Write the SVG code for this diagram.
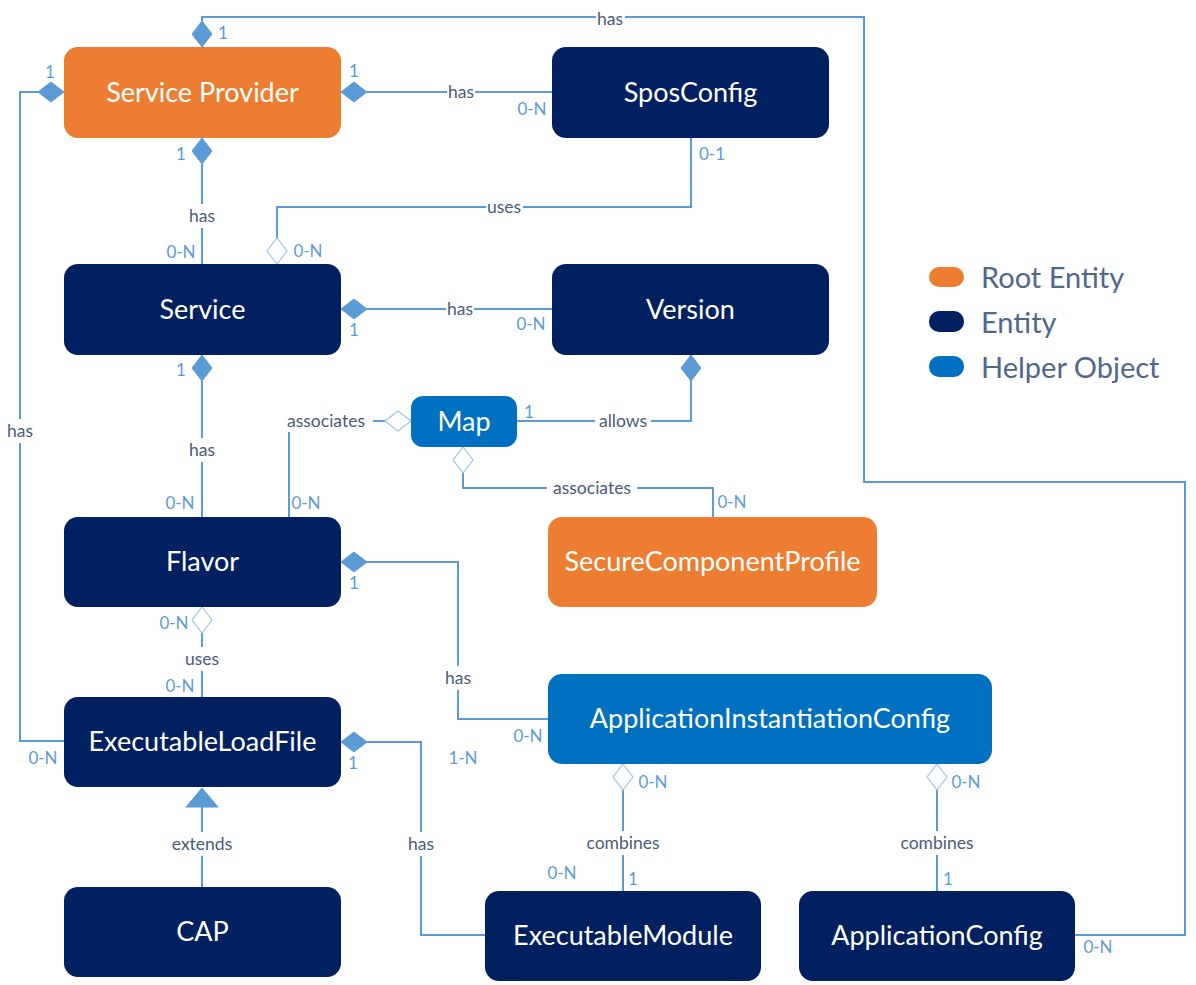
<svg xmlns="http://www.w3.org/2000/svg" width="1196" height="985" viewBox="0 0 1196 985">
<style>
.node-root{fill:#ED7D31}
.node-ent{fill:#002060}
.node-help{fill:#0070C0}
.nt{font-family:Lato,"Liberation Sans",sans-serif;font-size:27px;fill:#FFFFFF;text-anchor:middle}
.ln{fill:none;stroke:#5B9BD5;stroke-width:2}
.fd{fill:#5B9BD5;stroke:#5B9BD5;stroke-width:1}
.hd{fill:#FFFFFF;stroke:#9DC3E6;stroke-width:1.2}
.bg{fill:#FFFFFF}
.lb{font-family:Lato,"Liberation Sans",sans-serif;font-size:17.5px;fill:#4A5C7A;text-anchor:middle}
.m{font-family:Lato,"Liberation Sans",sans-serif;font-size:17px;fill:#5B9BD5;text-anchor:middle}
.lg{font-family:Lato,"Liberation Sans",sans-serif;font-size:29px;fill:#50688A}
</style>
<rect x="0" y="0" width="1196" height="985" fill="#FFFFFF"/>

<g id="connectors">
  <path class="ln" d="M202,21 V17 H864 V482 H1185 V935 H1075"/>
  <path class="ln" d="M367,92 H552"/>
  <path class="ln" d="M202,164 V264"/>
  <path class="ln" d="M38,92 H20 V741 H64"/>
  <path class="ln" d="M691,138 V207 H277 V238"/>
  <path class="ln" d="M367,309 H552"/>
  <path class="ln" d="M202,381 V517"/>
  <path class="ln" d="M289,517 V421 H385"/>
  <path class="ln" d="M517,421 H691 V381"/>
  <path class="ln" d="M463,473 V488 H713 V517"/>
  <path class="ln" d="M367,562 H458 V719 H548"/>
  <path class="ln" d="M202,633 V697"/>
  <path class="ln" d="M367,742 H421 V935 H485"/>
  <path class="ln" d="M623,790 V891"/>
  <path class="ln" d="M937,790 V891"/>
  <path class="ln" d="M202,887 V807"/>

  <polygon class="fd" points="202,47 212,34 202,21 192,34"/>
  <polygon class="fd" points="64,92 51,82 38,92 51,102"/>
  <polygon class="fd" points="341,92 354,82 367,92 354,102"/>
  <polygon class="fd" points="202,138 212,151 202,164 192,151"/>
  <polygon class="fd" points="341,309 354,299 367,309 354,319"/>
  <polygon class="fd" points="202,355 212,368 202,381 192,368"/>
  <polygon class="fd" points="691,355 701,368 691,381 681,368"/>
  <polygon class="fd" points="341,562 354,552 367,562 354,572"/>
  <polygon class="fd" points="341,742 354,732 367,742 354,752"/>
  <polygon class="hd" points="277,264 287,251 277,238 267,251"/>
  <polygon class="hd" points="411,421 398,411 385,421 398,431"/>
  <polygon class="hd" points="463,447 473,460 463,473 453,460"/>
  <polygon class="hd" points="202,607 212,620 202,633 192,620"/>
  <polygon class="hd" points="623,764 633,777 623,790 613,777"/>
  <polygon class="hd" points="937,764 947,777 937,790 927,777"/>
  <polygon class="fd" points="202,788 218,807 186,807"/>

  <rect class="bg" x="596" y="9" width="29" height="20"/>
  <rect class="bg" x="447" y="82" width="28" height="20"/>
  <rect class="bg" x="188" y="204" width="28" height="24"/>
  <rect class="bg" x="486" y="197" width="37" height="20"/>
  <rect class="bg" x="446" y="299" width="28" height="20"/>
  <rect class="bg" x="188" y="438" width="28" height="24"/>
  <rect class="bg" x="6" y="419" width="28" height="24"/>
  <rect class="bg" x="280" y="409" width="93" height="23"/>
  <rect class="bg" x="595" y="411" width="56" height="20"/>
  <rect class="bg" x="547" y="478" width="90" height="20"/>
  <rect class="bg" x="444" y="666" width="28" height="24"/>
  <rect class="bg" x="184" y="647" width="36" height="24"/>
  <rect class="bg" x="166" y="832" width="72" height="24"/>
  <rect class="bg" x="407" y="832" width="28" height="24"/>
  <rect class="bg" x="589" y="831" width="68" height="24"/>
  <rect class="bg" x="903" y="831" width="68" height="24"/>

  <text class="lb" x="610" y="25">has</text>
  <text class="lb" x="461" y="98">has</text>
  <text class="lb" x="202" y="222">has</text>
  <text class="lb" x="504" y="213">uses</text>
  <text class="lb" x="460" y="315">has</text>
  <text class="lb" x="202" y="456">has</text>
  <text class="lb" x="20" y="437">has</text>
  <text class="lb" x="326" y="427">associates</text>
  <text class="lb" x="623" y="427">allows</text>
  <text class="lb" x="592" y="494">associates</text>
  <text class="lb" x="458" y="684">has</text>
  <text class="lb" x="202" y="665">uses</text>
  <text class="lb" x="202" y="850">extends</text>
  <text class="lb" x="421" y="850">has</text>
  <text class="lb" x="623" y="849">combines</text>
  <text class="lb" x="937" y="849">combines</text>

  <text class="m" x="223" y="39">1</text>
  <text class="m" x="50" y="78">1</text>
  <text class="m" x="354" y="77">1</text>
  <text class="m" x="532" y="115">0-N</text>
  <text class="m" x="181" y="160">1</text>
  <text class="m" x="181" y="258">0-N</text>
  <text class="m" x="308" y="257">0-N</text>
  <text class="m" x="712" y="160">0-1</text>
  <text class="m" x="354" y="336">1</text>
  <text class="m" x="531" y="330">0-N</text>
  <text class="m" x="181" y="376">1</text>
  <text class="m" x="180" y="509">0-N</text>
  <text class="m" x="306" y="509">0-N</text>
  <text class="m" x="529" y="418">1</text>
  <text class="m" x="732" y="508">0-N</text>
  <text class="m" x="354" y="589">1</text>
  <text class="m" x="174" y="629">0-N</text>
  <text class="m" x="180" y="692">0-N</text>
  <text class="m" x="43" y="764">0-N</text>
  <text class="m" x="353" y="769">1</text>
  <text class="m" x="463" y="764">1-N</text>
  <text class="m" x="528" y="742">0-N</text>
  <text class="m" x="653" y="788">0-N</text>
  <text class="m" x="966" y="788">0-N</text>
  <text class="m" x="562" y="879">0-N</text>
  <text class="m" x="633" y="885">1</text>
  <text class="m" x="948" y="885">1</text>
  <text class="m" x="1098" y="953">0-N</text>
</g>

<g id="node-service-provider">
  <rect class="node-root" x="64" y="47" width="277" height="91" rx="14"/>
  <text class="nt" x="202.5" y="101.5">Service Provider</text>
</g>
<g id="node-sposconfig">
  <rect class="node-ent" x="552" y="47" width="277" height="91" rx="14"/>
  <text class="nt" x="690.5" y="101.5">SposConfig</text>
</g>
<g id="node-service">
  <rect class="node-ent" x="64" y="264" width="277" height="91" rx="14"/>
  <text class="nt" x="202.5" y="318.5">Service</text>
</g>
<g id="node-version">
  <rect class="node-ent" x="552" y="264" width="277" height="91" rx="14"/>
  <text class="nt" x="690.5" y="318.5">Version</text>
</g>
<g id="node-map">
  <rect class="node-help" x="411" y="396" width="106" height="51" rx="12"/>
  <text class="nt" x="464" y="431">Map</text>
</g>
<g id="node-flavor">
  <rect class="node-ent" x="64" y="517" width="277" height="90" rx="14"/>
  <text class="nt" x="202.5" y="571">Flavor</text>
</g>
<g id="node-securecomponentprofile">
  <rect class="node-root" x="548" y="517" width="329" height="90" rx="14"/>
  <text class="nt" x="712.5" y="571">SecureComponentProfile</text>
</g>
<g id="node-executableloadfile">
  <rect class="node-ent" x="64" y="697" width="277" height="90" rx="14"/>
  <text class="nt" x="202.5" y="751">ExecutableLoadFile</text>
</g>
<g id="node-applicationinstantiationconfig">
  <rect class="node-help" x="548" y="674" width="444" height="90" rx="14"/>
  <text class="nt" x="770" y="728">ApplicationInstantiationConfig</text>
</g>
<g id="node-cap">
  <rect class="node-ent" x="64" y="887" width="277" height="90" rx="14"/>
  <text class="nt" x="202.5" y="941">CAP</text>
</g>
<g id="node-executablemodule">
  <rect class="node-ent" x="485" y="891" width="276" height="90" rx="14"/>
  <text class="nt" x="623" y="945">ExecutableModule</text>
</g>
<g id="node-applicationconfig">
  <rect class="node-ent" x="799" y="891" width="276" height="90" rx="14"/>
  <text class="nt" x="937" y="945">ApplicationConfig</text>
</g>

<g id="legend">
  <rect x="929" y="267" width="35" height="20" rx="10" class="node-root"/>
  <text class="lg" x="981" y="288">Root Entity</text>
  <rect x="929" y="311" width="35" height="21" rx="10" class="node-ent"/>
  <text class="lg" x="981" y="333">Entity</text>
  <rect x="929" y="356" width="35" height="21" rx="10" class="node-help"/>
  <text class="lg" x="981" y="378">Helper Object</text>
</g>
</svg>
